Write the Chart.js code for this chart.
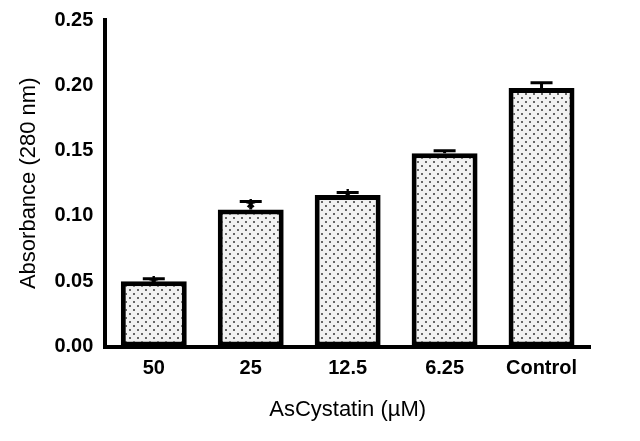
<!DOCTYPE html><html><head><script src="https://cdn.jsdelivr.net/npm/chart.js@4"></script>
<style>body{margin:0;background:#fff}#w{width:640px;height:441px}</style></head><body><div id="w"><canvas id="c"></canvas></div>
<script>
const categories=["50","25","12.5","6.25","Control"];
const values=[0.050,0.105,0.116,0.148,0.198];
const errors=[0.002,0.006,0.002,0.002,0.004];
const significant=[true,true,true,false,false];
const yTicks=[0,0.05,0.10,0.15,0.20,0.25];

function pattern(){const p=document.createElement('canvas');p.width=8;p.height=8;const g=p.getContext('2d');
g.fillStyle='#f2f2f2';g.fillRect(0,0,8,8);g.fillStyle='#666';g.fillRect(1,1,2,2);g.fillRect(5,5,2,2);
return g.createPattern(p,'repeat');}
const errPlugin={id:'err',afterDatasetsDraw(ch){const c=ch.ctx,y=ch.scales.y,m=ch.getDatasetMeta(0);
c.save();c.strokeStyle='#000';c.lineWidth=3;c.fillStyle='#000';c.font='bold 24px "Liberation Sans"';c.textAlign='center';
m.data.forEach((b,i)=>{const t=y.getPixelForValue(values[i]+errors[i]),bt=y.getPixelForValue(values[i]);
c.beginPath();c.moveTo(b.x,bt);c.lineTo(b.x,t);c.moveTo(b.x-11,t);c.lineTo(b.x+11,t);c.stroke();
if(significant[i])c.fillText('*',b.x,t+14);});c.restore();}};
new Chart(document.getElementById('c'),{type:'bar',data:{labels:categories,datasets:[{data:values,backgroundColor:pattern(),borderColor:'#000',borderWidth:5,borderSkipped:false,categoryPercentage:1,barPercentage:0.68}]},
plugins:[errPlugin],
options:{responsive:true,maintainAspectRatio:false,animation:false,layout:{padding:{left:12,right:50,top:20,bottom:14}},
plugins:{legend:{display:false},tooltip:{enabled:false}},
scales:{x:{grid:{display:false,drawTicks:false},border:{color:'#000',width:4},ticks:{color:'#000',padding:10,font:{family:'Liberation Sans',weight:'bold',size:20}},
title:{display:true,text:'AsCystatin (µM)',color:'#000',font:{family:'Liberation Sans',size:22},padding:{top:6}}},
y:{min:0,max:0.25,afterBuildTicks(a){a.ticks=yTicks.map(v=>({value:v}));},grid:{display:false,drawOnChartArea:false,drawTicks:true,tickLength:8,tickWidth:4,tickColor:'#000'},border:{color:'#000',width:4},
ticks:{color:'#000',padding:4,callback:v=>v.toFixed(2),font:{family:'Liberation Sans',weight:'bold',size:20}},
title:{display:true,text:'Absorbance (280 nm)',color:'#000',font:{family:'Liberation Sans',size:22},padding:{bottom:8}}}}}});
</script></body></html>
